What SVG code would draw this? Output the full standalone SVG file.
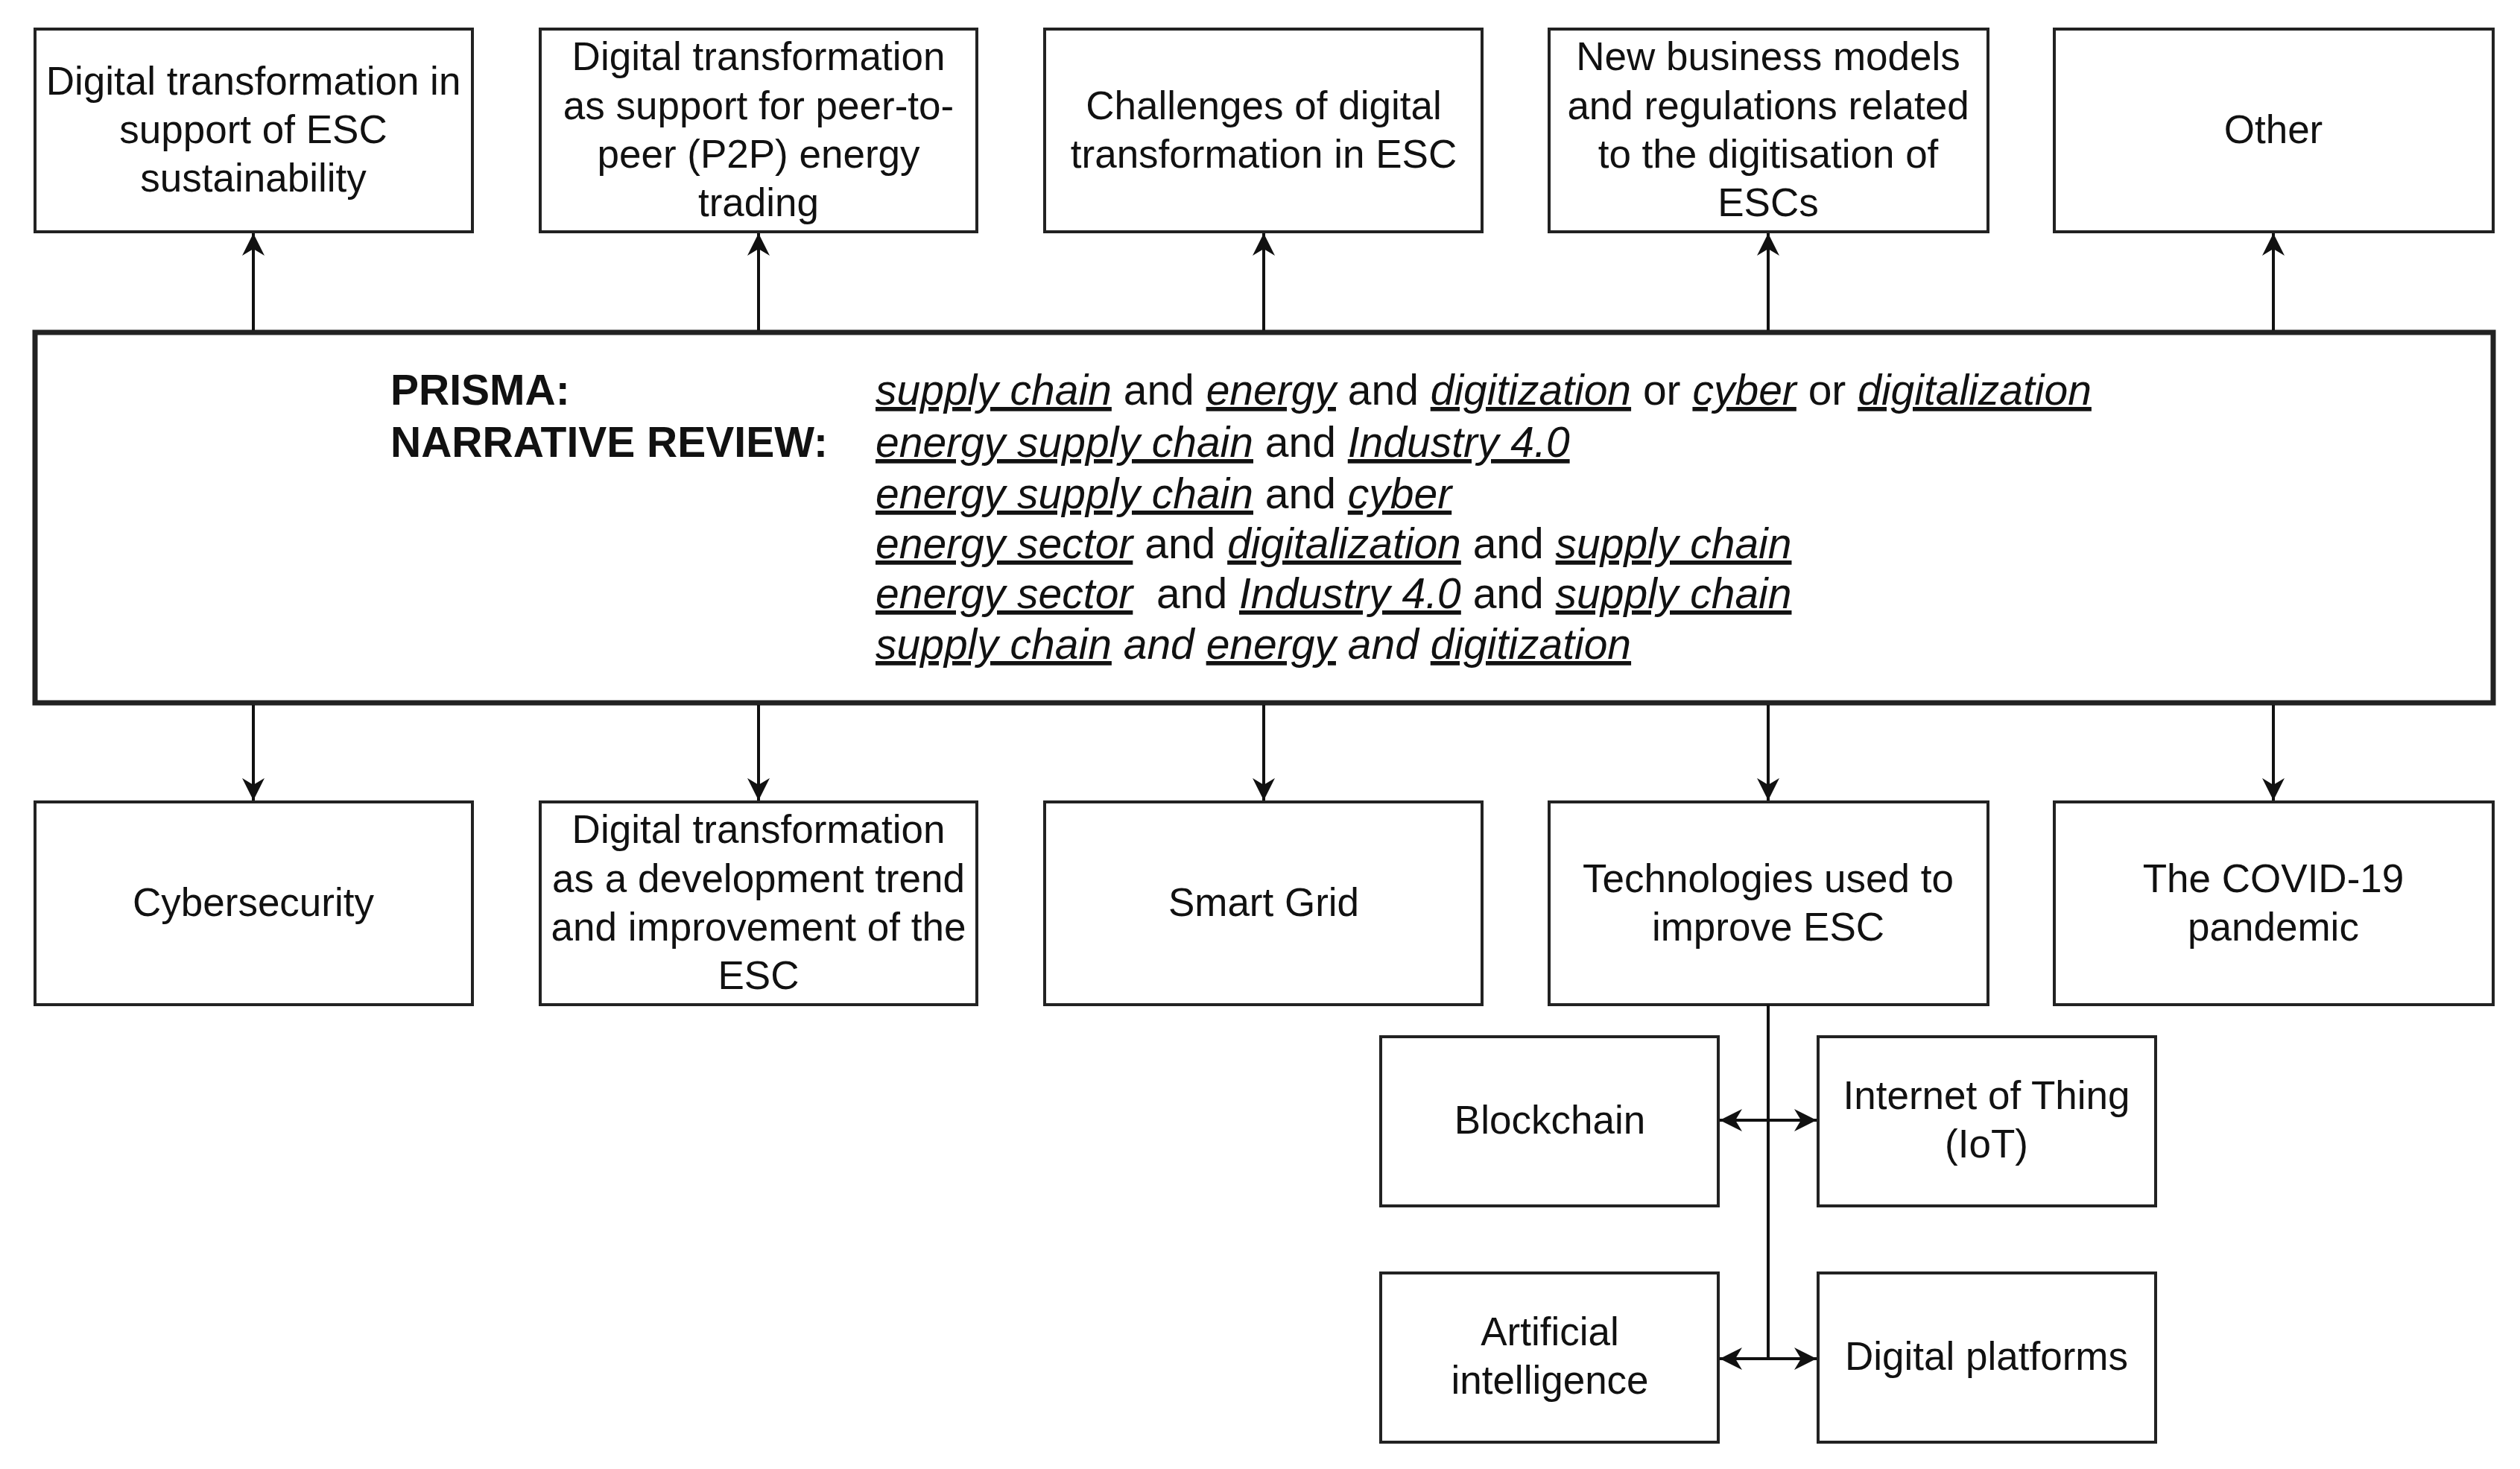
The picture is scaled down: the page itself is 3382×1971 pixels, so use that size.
<svg xmlns="http://www.w3.org/2000/svg" width="3382" height="1971" viewBox="0 0 3382 1971">
<style>
.b{fill:#fff;stroke:#222;stroke-width:4}
.t{font-family:"Liberation Sans",Arial,Helvetica,sans-serif;font-size:53px;fill:#111;text-anchor:middle}
.m{font-family:"Liberation Sans",Arial,Helvetica,sans-serif;font-size:57px;fill:#111}
.k{font-weight:bold}
.u{font-style:italic;text-decoration:underline}
.i{font-style:italic}
.c{stroke:#111;stroke-width:4;fill:none}
</style>
<defs>
<marker id="A" viewBox="0 0 10 10" refX="10" refY="5" markerWidth="34" markerHeight="30" markerUnits="userSpaceOnUse" orient="auto-start-reverse"><path d="M0,0L10,5L0,10L3,5z" fill="#111"/></marker>
</defs>
<rect width="3382" height="1971" fill="#fff"/>
<g id="n1"><rect class="b" x="47" y="39" width="587" height="272"/><text class="t"><tspan x="340" y="127">Digital transformation in</tspan><tspan x="340" y="192">support of ESC</tspan><tspan x="340" y="257">sustainability</tspan></text></g>
<g id="n2"><rect class="b" x="725" y="39" width="586" height="272"/><text class="t"><tspan x="1018" y="94">Digital transformation</tspan><tspan x="1018" y="160">as support for peer-to-</tspan><tspan x="1018" y="225">peer (P2P) energy</tspan><tspan x="1018" y="290">trading</tspan></text></g>
<g id="n3"><rect class="b" x="1402" y="39" width="587" height="272"/><text class="t"><tspan x="1696" y="160">Challenges of digital</tspan><tspan x="1696" y="225">transformation in ESC</tspan></text></g>
<g id="n4"><rect class="b" x="2079" y="39" width="589" height="272"/><text class="t"><tspan x="2373" y="94">New business models</tspan><tspan x="2373" y="160">and regulations related</tspan><tspan x="2373" y="225">to the digitisation of</tspan><tspan x="2373" y="290">ESCs</tspan></text></g>
<g id="n5"><rect class="b" x="2757" y="39" width="589" height="272"/><text class="t"><tspan x="3051" y="192">Other</tspan></text></g>
<g id="main"><rect x="47" y="446" width="3299" height="497" fill="#fff" stroke="#222" stroke-width="7"/>
<text class="m k" x="524" y="543">PRISMA:</text>
<text class="m k" x="524" y="613">NARRATIVE REVIEW:</text>
<text class="m" x="1175" y="543"><tspan class="u">supply chain</tspan> and <tspan class="u">energy</tspan> and <tspan class="u">digitization</tspan> or <tspan class="u">cyber</tspan> or <tspan class="u">digitalization</tspan></text>
<text class="m" x="1175" y="613"><tspan class="u">energy supply chain</tspan> and <tspan class="u">Industry 4.0</tspan></text>
<text class="m" x="1175" y="682"><tspan class="u">energy supply chain</tspan> and <tspan class="u">cyber</tspan></text>
<text class="m" x="1175" y="749"><tspan class="u">energy sector</tspan> and <tspan class="u">digitalization</tspan> and <tspan class="u">supply chain</tspan></text>
<text class="m" x="1175" y="816" xml:space="preserve"><tspan class="u">energy sector</tspan>  and <tspan class="u">Industry 4.0</tspan> and <tspan class="u">supply chain</tspan></text>
<text class="m i" x="1175" y="884"><tspan class="u">supply chain</tspan> and <tspan class="u">energy</tspan> and <tspan class="u">digitization</tspan></text>
</g>
<g id="n6"><rect class="b" x="47" y="1076" width="587" height="272"/><text class="t"><tspan x="340" y="1229">Cybersecurity</tspan></text></g>
<g id="n7"><rect class="b" x="725" y="1076" width="586" height="272"/><text class="t"><tspan x="1018" y="1131">Digital transformation</tspan><tspan x="1018" y="1197">as a development trend</tspan><tspan x="1018" y="1262">and improvement of the</tspan><tspan x="1018" y="1327">ESC</tspan></text></g>
<g id="n8"><rect class="b" x="1402" y="1076" width="587" height="272"/><text class="t"><tspan x="1696" y="1229">Smart Grid</tspan></text></g>
<g id="n9"><rect class="b" x="2079" y="1076" width="589" height="272"/><text class="t"><tspan x="2373" y="1197">Technologies used to</tspan><tspan x="2373" y="1262">improve ESC</tspan></text></g>
<g id="n10"><rect class="b" x="2757" y="1076" width="589" height="272"/><text class="t"><tspan x="3051" y="1197">The COVID-19</tspan><tspan x="3051" y="1262">pandemic</tspan></text></g>
<g id="n11"><rect class="b" x="1853" y="1391" width="453" height="227"/><text class="t"><tspan x="2080" y="1521">Blockchain</tspan></text></g>
<g id="n12"><rect class="b" x="2440" y="1391" width="453" height="227"/><text class="t"><tspan x="2666" y="1488">Internet of Thing</tspan><tspan x="2666" y="1553">(IoT)</tspan></text></g>
<g id="n13"><rect class="b" x="1853" y="1708" width="453" height="227"/><text class="t"><tspan x="2080" y="1805">Artificial</tspan><tspan x="2080" y="1870">intelligence</tspan></text></g>
<g id="n14"><rect class="b" x="2440" y="1708" width="453" height="227"/><text class="t"><tspan x="2666" y="1838">Digital platforms</tspan></text></g>
<g id="connectors" class="c">
<path d="M340 443V313" marker-end="url(#A)"/><path d="M1018 443V313" marker-end="url(#A)"/><path d="M1696 443V313" marker-end="url(#A)"/><path d="M2373 443V313" marker-end="url(#A)"/><path d="M3051 443V313" marker-end="url(#A)"/>
<path d="M340 946V1074" marker-end="url(#A)"/><path d="M1018 946V1074" marker-end="url(#A)"/><path d="M1696 946V1074" marker-end="url(#A)"/><path d="M2373 946V1074" marker-end="url(#A)"/><path d="M3051 946V1074" marker-end="url(#A)"/>
<path d="M2373 1348V1823"/>
<path d="M2308 1503H2438" marker-start="url(#A)" marker-end="url(#A)"/>
<path d="M2308 1823H2438" marker-start="url(#A)" marker-end="url(#A)"/>
</g>
</svg>
